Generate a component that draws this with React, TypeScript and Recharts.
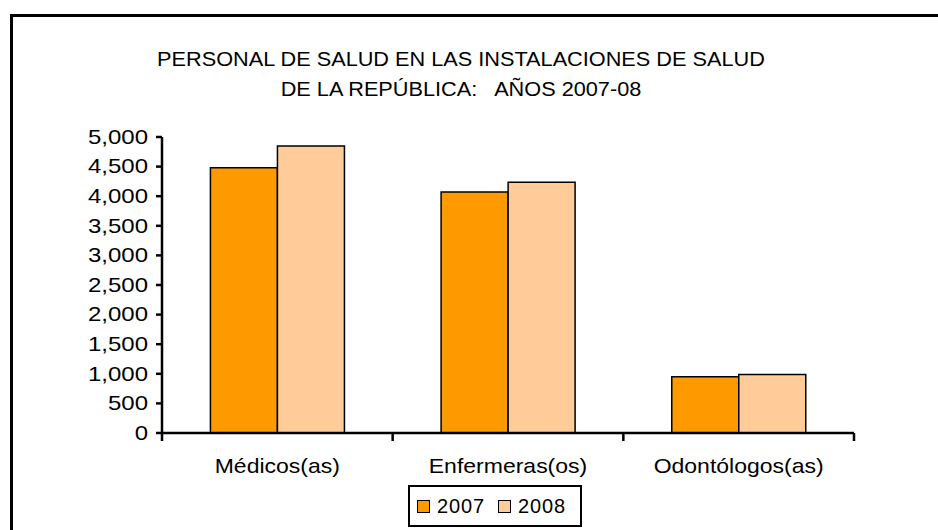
import React from "react";
import { BarChart, Bar, XAxis, YAxis, Legend } from "recharts";

const categories = ["Médicos(as)", "Enfermeras(os)", "Odontólogos(as)"];
const values2007 = [4480, 4070, 950];
const values2008 = [4850, 4235, 990];
const seriesNames = ["2007", "2008"];
const seriesColors = ["#FF9900", "#FFCC99"];
const yTicks = [0, 500, 1000, 1500, 2000, 2500, 3000, 3500, 4000, 4500, 5000];
const titleLines = ["PERSONAL DE SALUD EN LAS INSTALACIONES DE SALUD", "DE LA REPÚBLICA:   AÑOS 2007-08"];

const data = categories.map((c, i) => ({ name: c, v2007: values2007[i], v2008: values2008[i] }));

const FONT = "'Liberation Sans', Arial, sans-serif";
const X_TICK_MARGIN = 33;
const X_TICK_LEN = 8;

const fmt = (v: number) => v.toLocaleString("en-US");

const YTick = (props: any) => {
  const { x, y, payload } = props;
  return (
    <text
      transform={`translate(${x},${y}) scale(1.2,1)`}
      textAnchor="end"
      dominantBaseline="central"
      fontSize={20}
      fontFamily={FONT}
      fill="#000"
    >
      {fmt(payload.value)}
    </text>
  );
};

// Category label plus Excel-style tick marks at the category boundaries
const XTick = (props: any) => {
  const { x, y, payload, index, visibleTicksCount } = props;
  const half = payload.offset || 0;
  const axisY = y - X_TICK_MARGIN;
  const left = x - half;
  const right = x + half;
  return (
    <g>
      <line x1={left} x2={left} y1={axisY} y2={axisY + X_TICK_LEN} stroke="#000" strokeWidth={2.5} />
      {index === visibleTicksCount - 1 && (
        <line x1={right} x2={right} y1={axisY} y2={axisY + X_TICK_LEN} stroke="#000" strokeWidth={2.5} />
      )}
      <text
        transform={`translate(${x},${y}) scale(1.15,1)`}
        textAnchor="middle"
        dominantBaseline="central"
        fontSize={20}
        fontFamily={FONT}
        fill="#000"
      >
        {payload.value}
      </text>
    </g>
  );
};

const LegendBox = () => (
  <div
    style={{
      width: 174,
      height: 42,
      border: "2px solid #000",
      background: "#fff",
      position: "relative",
      boxSizing: "border-box",
      fontFamily: FONT,
      fontSize: 20,
      color: "#000",
    }}
  >
    {seriesNames.map((n, i) => (
      <div
        key={n}
        style={{
          position: "absolute",
          left: 7 + i * 81,
          top: 0,
          height: 38,
          display: "flex",
          alignItems: "center",
        }}
      >
        <div
          style={{
            width: 13,
            height: 13,
            background: seriesColors[i],
            border: "1.5px solid #000",
            boxSizing: "border-box",
            marginRight: 7,
          }}
        />
        <span style={{ letterSpacing: "0.9px", lineHeight: "20px" }}>{n}</span>
      </div>
    ))}
  </div>
);

export default function App() {
  return (
    <div
      style={{
        position: "absolute",
        left: 0,
        top: 0,
        width: 938,
        height: 530,
        overflow: "hidden",
        background: "#fff",
        fontFamily: FONT,
      }}
    >
      <div
        style={{
          position: "absolute",
          left: 10,
          top: 14,
          width: 1000,
          height: 600,
          border: "3.5px solid #000",
          boxSizing: "border-box",
        }}
      />
      <div
        style={{
          position: "absolute",
          left: 0,
          top: 44,
          width: 922,
          textAlign: "center",
          fontSize: 20,
          lineHeight: "30px",
          whiteSpace: "pre",
          color: "#000",
          transform: "scaleX(1.085)",
        }}
      >
        {titleLines.map((t) => (
          <div key={t}>{t}</div>
        ))}
      </div>
      <div style={{ position: "absolute", left: 0, top: 0 }}>
        <BarChart
          width={938}
          height={530}
          data={data}
          margin={{ top: 137, right: 84, left: 0, bottom: 57 }}
          barGap={0}
          barCategoryGap="21%"
        >
          <XAxis
            dataKey="name"
            height={40}
            interval={0}
            axisLine={{ stroke: "#000", strokeWidth: 2.5 }}
            tickLine={false}
            tickSize={0}
            tickMargin={X_TICK_MARGIN}
            tick={XTick}
          />
          <YAxis
            width={162}
            domain={[0, 5000]}
            ticks={yTicks}
            interval={0}
            tickSize={6}
            tickMargin={8}
            axisLine={{ stroke: "#000", strokeWidth: 2.5 }}
            tickLine={{ stroke: "#000", strokeWidth: 2.5 }}
            tick={YTick}
          />
          <Legend
            layout="horizontal"
            verticalAlign="middle"
            align="center"
            content={() => <LegendBox />}
            wrapperStyle={{ left: 408, top: 485, width: "auto" }}
          />
          <Bar dataKey="v2007" name={seriesNames[0]} fill={seriesColors[0]} stroke="#000" strokeWidth={1.5} isAnimationActive={false} />
          <Bar dataKey="v2008" name={seriesNames[1]} fill={seriesColors[1]} stroke="#000" strokeWidth={1.5} isAnimationActive={false} />
        </BarChart>
      </div>
    </div>
  );
}
